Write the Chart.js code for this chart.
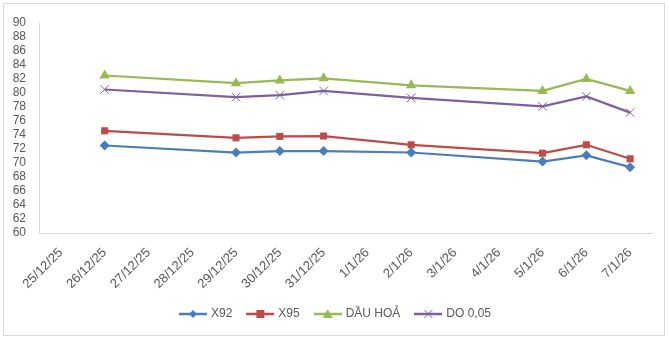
<!DOCTYPE html>
<html>
<head>
<meta charset="utf-8">
<script src="https://cdn.jsdelivr.net/npm/chart.js@4/dist/chart.umd.min.js"></script>
<style>
  html, body { margin: 0; padding: 0; background: #fff; }
  #wrap { position: relative; width: 669px; height: 340px; }
  #frame { position: absolute; left: 3px; top: 3px; width: 662px; height: 333px; border: 1px solid #d9d9d9; box-sizing: border-box; }
  canvas { position: absolute; left: 0; top: 0; }
</style>
</head>
<body>
<div id="wrap">
  <div id="frame"></div>
  <canvas id="c" width="669" height="340"></canvas>
</div>
<script>
// Dates on the category axis
const dates = ['25/12/25','26/12/25','27/12/25','28/12/25','29/12/25','30/12/25','31/12/25',
               '1/1/26','2/1/26','3/1/26','4/1/26','5/1/26','6/1/26','7/1/26'];

// Price series (null = no quote that day)
const x92   = [null, 72.5, null, null, 71.5, 71.7, 71.7, null, 71.5, null, null, 70.2, 71.1, 69.4];
const x95   = [null, 74.6, null, null, 73.6, 73.8, 73.85, null, 72.6, null, null, 71.4, 72.6, 70.6];
const dauHoa= [null, 82.5, null, null, 81.4, 81.8, 82.1, null, 81.1, null, null, 80.3, 82.0, 80.3];
const do005 = [null, 80.5, null, null, 79.4, 79.7, 80.3, null, 79.3, null, null, 78.1, 79.5, 77.2];

const yTicks = { min: 60, max: 90, step: 2 };

const font = "'Liberation Sans', 'DejaVu Sans', sans-serif";
const textColor = '#595959';
const axisColor = '#d9d9d9';

// Small legend glyph: line segment with the series marker in the middle
function legendGlyph(color, style) {
  const cv = document.createElement('canvas');
  cv.width = 28; cv.height = 12;
  const g = cv.getContext('2d');
  g.strokeStyle = color; g.lineWidth = 2.5;
  g.beginPath(); g.moveTo(0, 6); g.lineTo(28, 6); g.stroke();
  g.fillStyle = color;
  const cx = 14, cy = 6;
  if (style === 'rectRot') {
    g.beginPath(); g.moveTo(cx, cy - 4); g.lineTo(cx + 4, cy); g.lineTo(cx, cy + 4); g.lineTo(cx - 4, cy); g.closePath(); g.fill();
  } else if (style === 'rect') {
    g.fillRect(cx - 4, cy - 4, 8, 8);
  } else if (style === 'triangle') {
    g.beginPath(); g.moveTo(cx, cy - 5); g.lineTo(cx + 5, cy + 4); g.lineTo(cx - 5, cy + 4); g.closePath(); g.fill();
  } else {
    g.lineWidth = 1;
    g.beginPath(); g.moveTo(cx - 4, cy - 4); g.lineTo(cx + 4, cy + 4); g.moveTo(cx + 4, cy - 4); g.lineTo(cx - 4, cy + 4); g.stroke();
  }
  return cv;
}

function series(label, data, color, style, radius) {
  return {
    label, data, spanGaps: true,
    borderColor: color, backgroundColor: color,
    borderWidth: 2.25, tension: 0,
    pointStyle: style, pointRadius: radius, pointHoverRadius: radius,
    pointBackgroundColor: color, pointBorderColor: color,
    pointBorderWidth: style === 'crossRot' ? 1 : 0,
    glyph: legendGlyph(color, style)
  };
}

// Nudge the legend row a few pixels right so it sits centred under the frame
const legendNudge = {
  id: 'legendNudge',
  afterLayout(chart) {
    const lg = chart.legend;
    if (lg) { lg.left += 4; lg.right += 4; }
  }
};

new Chart(document.getElementById('c'), {
  type: 'line',
  data: {
    labels: dates,
    datasets: [
      series('X92', x92, '#4a7ebb', 'rectRot', 5),
      series('X95', x95, '#be4b48', 'rect', 5),
      series('DẦU HOẢ', dauHoa, '#98b954', 'triangle', 6),
      series('DO 0,05', do005, '#7d60a0', 'crossRot', 6)
    ]
  },
  plugins: [legendNudge],
  options: {
    responsive: false,
    animation: false,
    layout: { padding: { left: 12, right: 17, top: 23, bottom: 10 } },
    plugins: {
      tooltip: { enabled: false },
      legend: {
        position: 'bottom',
        labels: {
          usePointStyle: true,
          pointStyleWidth: 24,
          boxHeight: 12,
          padding: 16,
          color: textColor,
          font: { family: font, size: 12 },
          generateLabels(chart) {
            return chart.data.datasets.map((ds, i) => ({
              text: ds.label,
              pointStyle: ds.glyph,
              fillStyle: ds.borderColor,
              strokeStyle: ds.borderColor,
              lineWidth: 0,
              fontColor: textColor,
              hidden: false,
              datasetIndex: i
            }));
          }
        }
      }
    },
    scales: {
      x: {
        type: 'category',
        offset: true,
        grid: { display: false },
        border: { display: true, color: axisColor, width: 1 },
        ticks: {
          color: textColor, font: { family: font, size: 13 },
          maxRotation: 45, minRotation: 45, autoSkip: false, padding: 4
        },
        afterFit(axis) { axis.height = 59; }
      },
      y: {
        min: yTicks.min, max: yTicks.max,
        grid: { display: false },
        border: { display: true, color: axisColor, width: 1 },
        ticks: { stepSize: yTicks.step, autoSkip: false, color: textColor, font: { family: font, size: 12 }, padding: 5 },
        afterFit(axis) { axis.width = 27; }
      }
    }
  }
});
</script>
</body>
</html>
